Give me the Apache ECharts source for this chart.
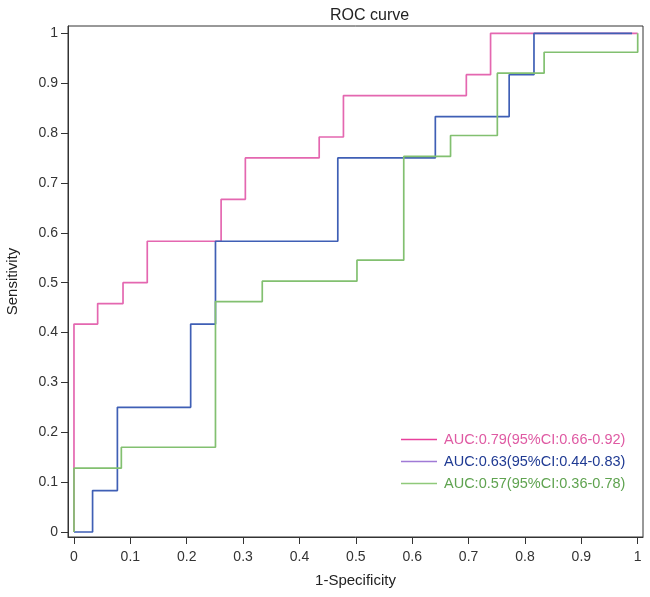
<!DOCTYPE html>
<html>
<head>
<meta charset="utf-8">
<script src="https://cdn.jsdelivr.net/npm/echarts@6/dist/echarts.min.js"></script>
<style>html,body{margin:0;padding:0;background:#fff}#c{width:650px;height:597px}</style>
</head>
<body>
<div id="c"></div>
<script>
const tickValues = [0, 0.1, 0.2, 0.3, 0.4, 0.5, 0.6, 0.7, 0.8, 0.9, 1];
const seriesNames = ['AUC:0.79(95%CI:0.66-0.92)', 'AUC:0.63(95%CI:0.44-0.83)', 'AUC:0.57(95%CI:0.36-0.78)'];
// [1-Specificity, Sensitivity] step points (horizontal then vertical)
const rocPink = [[0,0],[0,0.417],[0.042,0.458],[0.087,0.5],[0.13,0.583],[0.261,0.667],[0.304,0.75],[0.435,0.792],[0.478,0.875],[0.696,0.917],[0.739,1],[1,1]];
const rocBlue = [[0,0],[0.033,0.083],[0.077,0.25],[0.207,0.417],[0.251,0.583],[0.468,0.75],[0.641,0.833],[0.772,0.917],[0.816,1],[0.99,1]];
const rocGreen = [[0,0],[0,0.128],[0.084,0.17],[0.251,0.462],[0.334,0.503],[0.502,0.545],[0.585,0.753],[0.668,0.795],[0.751,0.92],[0.834,0.962],[1,1]];

const lineColors = ['#e467b0', '#3f5fb5', '#82c070'];
const legendLineColors = ['#e8409c', '#a07ad6', '#8fc97a'];
const legendTextColors = ['#df5aa3', '#1f3a93', '#5fa350'];
const fontFam = 'Liberation Sans, Arial, sans-serif';

const chart = echarts.init(document.getElementById('c'), null, {renderer: 'canvas'});
const fmt = v => String(Math.round(v * 10) / 10);
chart.setOption({
  animation: false,
  backgroundColor: '#fff',
  title: {
    text: 'ROC curve', left: 325, top: 3,
    textStyle: {fontFamily: fontFam, fontSize: 16, fontWeight: 'normal', color: '#222'}
  },
  grid: {left: 68, right: 7, top: 26, bottom: 60, show: true, borderColor: '#333', borderWidth: 1, containLabel: false, outerBoundsMode: 'none'},
  legend: {
    orient: 'vertical', left: 396, top: 427, itemWidth: 36, itemHeight: 1.6, itemGap: 7,
    icon: 'rect',
    textStyle: {fontFamily: fontFam, fontSize: 14.5, padding: [0, 0, 0, 2]},
    data: seriesNames.map((n, i) => ({
      name: n, icon: 'rect',
      itemStyle: {color: legendLineColors[i], borderWidth: 0},
      textStyle: {color: legendTextColors[i], fontFamily: fontFam, fontSize: 14.5, padding: [0, 0, 0, 2]}
    }))
  },
  xAxis: {
    type: 'value', min: -0.0106, max: 1.0094,
    name: '1-Specificity', nameLocation: 'middle', nameGap: 36,
    nameTextStyle: {fontFamily: fontFam, fontSize: 15, color: '#222'},
    axisLine: {show: true, onZero: false, lineStyle: {color: '#333', width: 1}},
    axisTick: {show: true, length: 7, customValues: tickValues, lineStyle: {color: '#333'}},
    axisLabel: {customValues: tickValues, formatter: fmt, margin: 13, fontFamily: fontFam, fontSize: 14, color: '#333'},
    splitLine: {show: false}
  },
  yAxis: {
    type: 'value', min: -0.01, max: 1.0146,
    name: 'Sensitivity', nameLocation: 'middle', nameGap: 48,
    nameTextStyle: {fontFamily: fontFam, fontSize: 15, color: '#222'},
    axisLine: {show: true, onZero: false, lineStyle: {color: '#333', width: 1}},
    axisTick: {show: true, length: 7, customValues: tickValues, lineStyle: {color: '#333'}},
    axisLabel: {customValues: tickValues, formatter: fmt, margin: 10, fontFamily: fontFam, fontSize: 14, color: '#333'},
    splitLine: {show: false}
  },
  series: [rocPink, rocBlue, rocGreen].map((d, i) => ({
    name: seriesNames[i], type: 'line', step: 'end', data: d,
    symbol: 'none', showSymbol: false,
    lineStyle: {color: lineColors[i], width: 1.7},
    itemStyle: {color: lineColors[i]}
  }))
});
</script>
</body>
</html>
